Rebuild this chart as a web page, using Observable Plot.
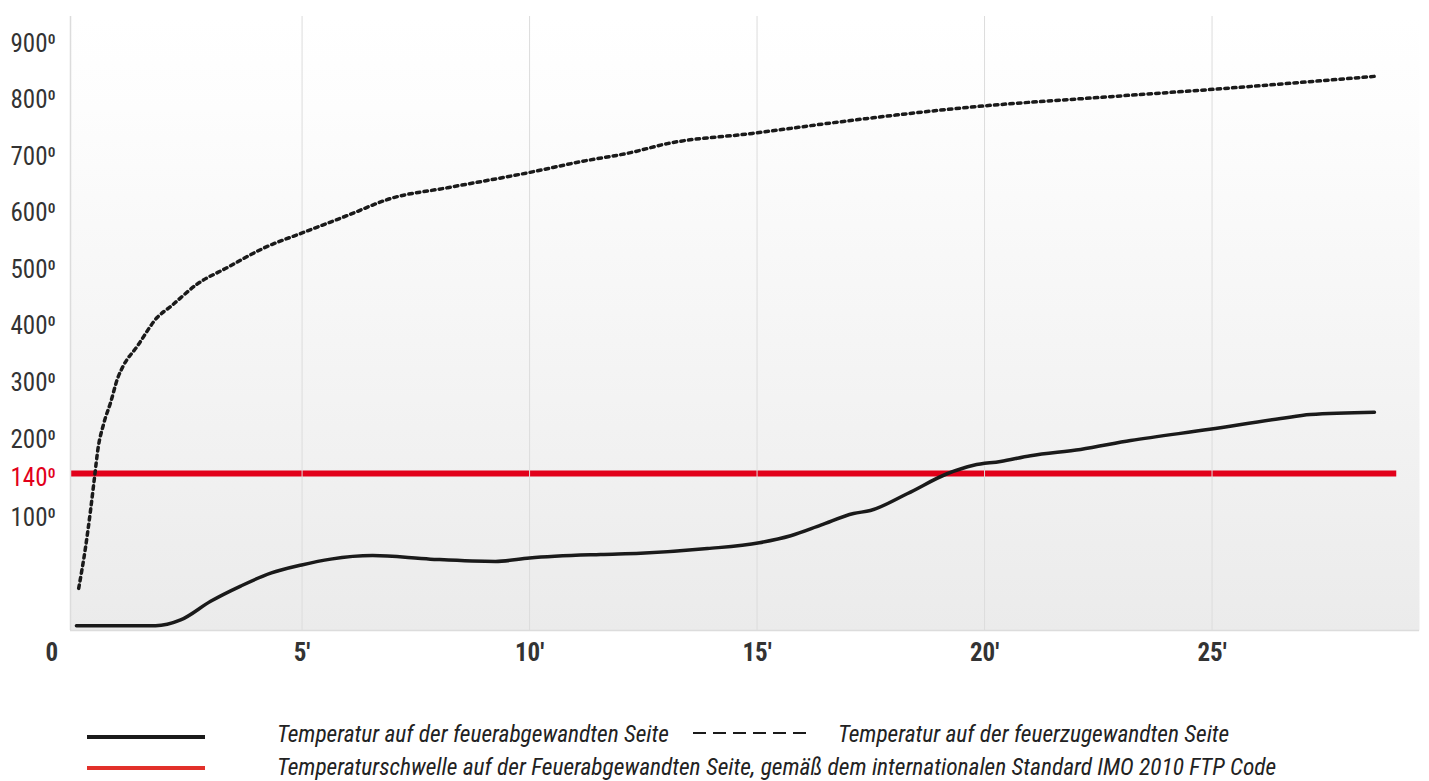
<!DOCTYPE html>
<html>
<head>
<meta charset="utf-8">
<script src="https://cdn.jsdelivr.net/npm/d3@7"></script>
<script src="https://cdn.jsdelivr.net/npm/@observablehq/plot@0.6"></script>
<style>
  html, body { margin: 0; padding: 0; background: #fff; }
  #wrap { position: relative; width: 1429px; height: 781px; overflow: hidden;
          font-family: "Liberation Sans Narrow", "Roboto Condensed", "DejaVu Sans Condensed", sans-serif; }
  .lg { position: absolute; font-style: italic; font-size: 23.4px; color: #222; white-space: nowrap; line-height: 26px; height: 26px; }
  .sw { position: absolute; height: 4px; width: 118px; }
</style>
</head>
<body>
<div id="wrap">
  <div id="chart"></div>
  <div class="sw" style="left:87px; top:735px; background:#1a1a1a;"></div>
  <div class="lg" style="left:277px; top:721px;">Temperatur auf der feuerabgewandten Seite</div>
  <svg style="position:absolute; left:693px; top:727px;" width="120" height="12"><line x1="0" y1="6" x2="118" y2="6" stroke="#1a1a1a" stroke-width="2" stroke-dasharray="13,7"/></svg>
  <div class="lg" style="left:838px; top:721px;">Temperatur auf der feuerzugewandten Seite</div>
  <div class="sw" style="left:87px; top:766px; background:#e2302a;"></div>
  <div class="lg" style="left:277px; top:754px;">Temperaturschwelle auf der Feuerabgewandten Seite, gemäß dem internationalen Standard IMO 2010 FTP Code</div>
</div>
<script>
// Time in minutes
const coldTime = [0.04, 1.78, 2.33, 2.99, 3.65, 4.31, 4.99, 5.63, 6.55, 7.82, 9.25, 10.0, 11.56, 12.44, 13.91, 15.05, 15.74, 16.4, 17.12, 17.49, 18.31, 19.19, 19.76, 20.35, 21.01, 22.11, 23.21, 24.95, 26.51, 27.16, 28.57];
// Temperature on the fire-averted side (°C)
const coldTemp = [4, 4, 9, 25, 38, 49, 56, 61, 64, 61, 59, 62, 65, 66, 70, 75, 81, 90, 100, 103, 120, 140, 153, 159, 168, 178, 192, 211, 230, 237, 241];

const hotTime = [0.09, 0.24, 0.35, 0.44, 0.51, 0.64, 0.79, 0.95, 1.05, 1.38, 1.82, 2.11, 2.70, 3.36, 4.15, 5.03, 6.0, 6.95, 8.2, 10.0, 11.12, 12.22, 13.03, 14.9, 16.68, 19.63, 22.77, 25.03, 28.59];
// Temperature on the fire-facing side (°C)
const hotTemp = [36, 71, 103, 137, 177, 221, 258, 302, 320, 358, 409, 428, 468, 497, 531, 559, 589, 619, 638, 665, 684, 700, 716, 734, 753, 780, 799, 812, 835];

const threshold = 140;
const thresholdEnd = 29.06;

const yTicks = [100, 200, 300, 400, 500, 600, 700, 800, 900];
const xTicks = [5, 10, 15, 20, 25];
const yTickLabel = d => d + "\u2070";
const xTickLabel = d => d + "'";

// The reference's temperature axis is stretched unevenly below 200°
const axisBreaks = [0, 100, 140, 200, 900];
const axisUnits = [0, 117, 157, 195, 591];
const warp = d3.scaleLinear().domain(axisBreaks).range(axisUnits);

const cold = coldTime.map((t, i) => ({t, v: coldTemp[i]}));
const hot = hotTime.map((t, i) => ({t, v: hotTemp[i]}));

const xMin = -0.09, xMax = 29.56;
const dark = "#333333";
const red = "#e2001a";

const svg = Plot.plot({
  width: 1429,
  height: 700,
  marginLeft: 70,
  marginRight: 10,
  marginTop: 16,
  marginBottom: 70,
  style: {fontFamily: '"Liberation Sans Narrow", "Roboto Condensed", "DejaVu Sans Condensed", sans-serif', fontSize: "25px", background: "transparent", overflow: "visible"},
  x: {domain: [xMin, xMax], axis: null},
  y: {type: "linear", transform: d => warp(d), domain: [0, 614], axis: null},
  marks: [
    Plot.frame({fill: "url(#bg)", stroke: "none"}),
    Plot.ruleY([threshold], {x1: xMin, x2: thresholdEnd, stroke: red, strokeWidth: 6}),
    Plot.ruleX(xTicks, {stroke: "#dcdcdc", strokeWidth: 1}),
    Plot.ruleX([xMin], {stroke: "#dcdcdc", strokeWidth: 1.5}),
    Plot.ruleY([0], {stroke: "#dcdcdc", strokeWidth: 1.5}),
    Plot.line(hot, {x: "t", y: "v", curve: "monotone-x", stroke: "#1a1a1a", strokeWidth: 3.5, strokeDasharray: "3.5,4.2"}),
    Plot.line(cold, {x: "t", y: "v", curve: "monotone-x", stroke: "#1a1a1a", strokeWidth: 3.5}),
    Plot.text(yTicks, {y: d => d, frameAnchor: "left", dx: -60, dy: 4, textAnchor: "start", text: yTickLabel, fill: dark, fontSize: 25}),
    Plot.text([threshold], {y: d => d, frameAnchor: "left", dx: -60, dy: 4, textAnchor: "start", text: yTickLabel, fill: red, fontSize: 25}),
    Plot.text(xTicks, {x: d => d, frameAnchor: "bottom", dy: 30, text: xTickLabel, fill: dark, fontSize: 25, fontWeight: "bold"}),
    Plot.text(["0"], {frameAnchor: "bottom-left", dx: -25, dy: 30, text: d => d, fill: dark, fontSize: 25, fontWeight: "bold"})
  ]
});

d3.select(svg).insert("defs", ":first-child").html(
  '<linearGradient id="bg" x1="0" y1="0" x2="0" y2="1">' +
  '<stop offset="0" stop-color="#ffffff"/>' +
  '<stop offset="0.15" stop-color="#fdfdfd"/>' +
  '<stop offset="1" stop-color="#ebebeb"/>' +
  '</linearGradient>'
);

document.getElementById("chart").appendChild(svg);
</script>
</body>
</html>
